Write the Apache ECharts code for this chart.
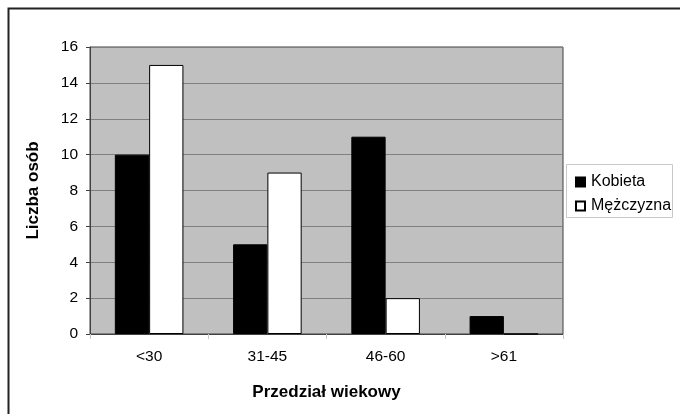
<!DOCTYPE html>
<html><head><meta charset="utf-8">
<script src="https://cdn.jsdelivr.net/npm/echarts@6/dist/echarts.min.js"></script>
<style>html,body{margin:0;padding:0;background:#fff}#c{width:680px;height:414px}</style>
</head><body><div id="c"></div>
<script>
var categories = ['<30', '31-45', '46-60', '>61'];
var kobieta = [10, 5, 11, 1];
var mezczyzna = [15, 9, 2, 0];
var yTicks = [0, 2, 4, 6, 8, 10, 12, 14, 16];

var chart = echarts.init(document.getElementById('c'), null, {renderer: 'canvas'});
var F = 'Liberation Sans, Arial, sans-serif';
chart.setOption({
  animation: false,
  graphic: [
    {type: 'rect', shape: {x: 8.5, y: 8.5, width: 700, height: 420}, style: {fill: 'none', stroke: '#222', lineWidth: 2}, z: -10},
    {type: 'rect', shape: {x: 566.5, y: 164.5, width: 106, height: 53}, style: {fill: '#fff', stroke: '#c8c8c8', lineWidth: 1}, z: -5}
  ],
  grid: {left: 90, top: 47, width: 473, height: 287, show: true, backgroundColor: '#c0c0c0', borderColor: '#404040', borderWidth: 1},
  legend: {
    orient: 'vertical', left: 570, top: 169, itemWidth: 9, itemHeight: 9, itemGap: 8,
    textStyle: {fontFamily: F, fontSize: 16, color: '#000', padding: [0,0,0,1]},
    icon: 'rect',
    data: [{name: 'Kobieta'}, {name: 'Mężczyzna'}]
  },
  xAxis: {
    type: 'category', data: categories,
    name: 'Przedział wiekowy', nameLocation: 'middle', nameGap: 50,
    nameTextStyle: {fontFamily: F, fontSize: 17, fontWeight: 'bold', color: '#000'},
    axisLine: {lineStyle: {color: '#404040'}},
    axisTick: {show: true, length: 5, lineStyle: {color: '#c8c8c8'}},
    axisLabel: {fontFamily: F, fontSize: 15.5, color: '#000', margin: 15},
    splitLine: {show: false}
  },
  yAxis: {
    type: 'value', min: 0, max: 16, interval: 2,
    name: 'Liczba osób', nameLocation: 'middle', nameGap: 48, nameRotate: 90,
    nameTextStyle: {fontFamily: F, fontSize: 17, fontWeight: 'bold', color: '#000'},
    axisLine: {show: true, lineStyle: {color: '#404040'}},
    axisTick: {show: true, length: 4, lineStyle: {color: '#404040'}},
    axisLabel: {fontFamily: F, fontSize: 15.5, color: '#000', margin: 12},
    splitLine: {show: true, lineStyle: {color: '#808080', width: 1}}
  },
  series: [
    {name: 'Kobieta', type: 'bar', data: kobieta, barGap: '0%', barCategoryGap: '42%',
     itemStyle: {color: '#000', borderColor: '#000', borderWidth: 1}},
    {name: 'Mężczyzna', type: 'bar', data: mezczyzna,
     itemStyle: {color: '#fff', borderColor: '#000', borderWidth: 1}}
  ]
});
</script></body></html>
